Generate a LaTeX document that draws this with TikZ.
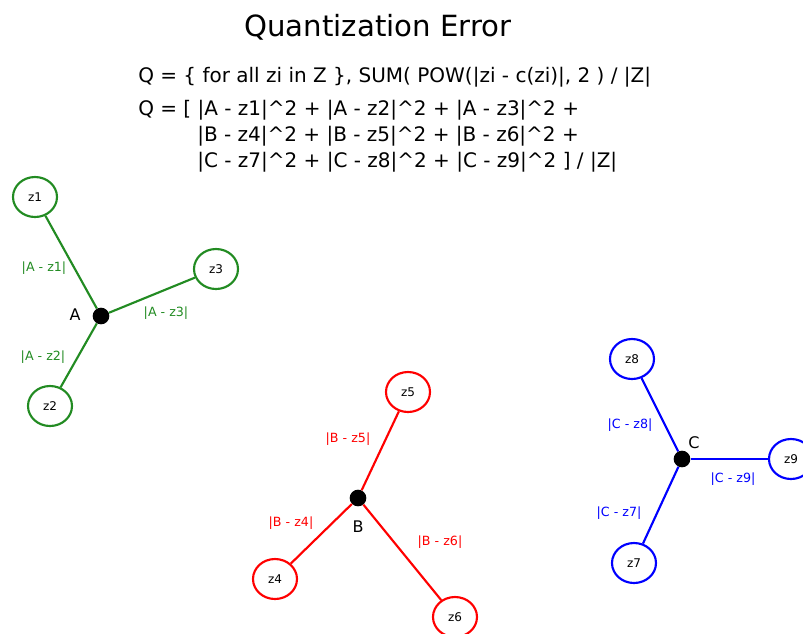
\documentclass[tikz,border=0pt]{standalone}
\usepackage{fontspec}
\setmainfont{DejaVu Sans}
\usepackage{tikz}
\usetikzlibrary{shapes.geometric}

\definecolor{clA}{RGB}{34,139,34}
\definecolor{clB}{RGB}{255,0,0}
\definecolor{clC}{RGB}{0,0,255}
\newcommand{\sq}{\textasciicircum2}

\begin{document}
\begin{tikzpicture}[
  x=0.75pt, y=-0.75pt,
  font=\fontsize{9}{10.5}\selectfont,
  pnt/.style={ellipse, draw, line width=1.6pt, fill=white, minimum width=33pt, minimum height=30pt, inner sep=0pt},
  ctr/.style={circle, fill=black, minimum size=12.5pt, inner sep=0pt},
  lnk/.style={line width=1.6pt},
  dist/.style={font=\fontsize{9.5}{11}\selectfont},
  ctrlbl/.style={font=\fontsize{12}{14}\selectfont},
  eq/.style={anchor=base west, inner sep=0pt, font=\fontsize{15}{17}\selectfont},
]
\useasboundingbox (0,0) rectangle (803,633);
\node[anchor=base, font=\fontsize{21.9}{24}\selectfont] (title) at (378,36) {Quantization Error};
\node[eq] (eq1) at (138,82) {Q = \{ for all zi in Z \}, SUM( POW(|zi - c(zi)|, 2 ) / |Z|};
\node[eq] (eq2) at (138,115) {Q = [ |A - z1|\sq{} + |A - z2|\sq{} + |A - z3|\sq{} +};
\node[eq] (eq3) at (197,141) {|B - z4|\sq{} + |B - z5|\sq{} + |B - z6|\sq{} +};
\node[eq] (eq4) at (197,167) {|C - z7|\sq{} + |C - z8|\sq{} + |C - z9|\sq{} ] / |Z|};

% cluster A
\node[ctr] (A) at (101,316) {};
\node[pnt, draw=clA] (z1) at (35,197) {z1};
\node[pnt, draw=clA] (z2) at (50,406) {z2};
\node[pnt, draw=clA] (z3) at (216,269) {z3};
\draw[lnk, clA] (A) -- (z1);
\draw[lnk, clA] (A) -- (z2);
\draw[lnk, clA] (A) -- (z3);
\node[ctrlbl] (lA) at (75,315) {A};
\node[dist, clA] (dA1) at (44,268) {|A - z1|};
\node[dist, clA] (dA2) at (43,357) {|A - z2|};
\node[dist, clA] (dA3) at (166,313) {|A - z3|};

% cluster B
\node[ctr] (B) at (358,498) {};
\node[pnt, draw=clB] (z4) at (275,579) {z4};
\node[pnt, draw=clB] (z5) at (408,392) {z5};
\node[pnt, draw=clB] (z6) at (455,617) {z6};
\draw[lnk, clB] (B) -- (z4);
\draw[lnk, clB] (B) -- (z5);
\draw[lnk, clB] (B) -- (z6);
\node[ctrlbl] (lB) at (358,527) {B};
\node[dist, clB] (dB4) at (291,523) {|B - z4|};
\node[dist, clB] (dB5) at (348,439) {|B - z5|};
\node[dist, clB] (dB6) at (440,542) {|B - z6|};

% cluster C
\node[ctr] (C) at (682,459) {};
\node[pnt, draw=clC] (z7) at (634,563) {z7};
\node[pnt, draw=clC] (z8) at (632,359) {z8};
\node[pnt, draw=clC] (z9) at (791,459) {z9};
\draw[lnk, clC] (C) -- (z7);
\draw[lnk, clC] (C) -- (z8);
\draw[lnk, clC] (C) -- (z9);
\node[ctrlbl] (lC) at (694,443) {C};
\node[dist, clC] (dC7) at (619,513) {|C - z7|};
\node[dist, clC] (dC8) at (630,425) {|C - z8|};
\node[dist, clC] (dC9) at (733,479) {|C - z9|};
\end{tikzpicture}
\end{document}
